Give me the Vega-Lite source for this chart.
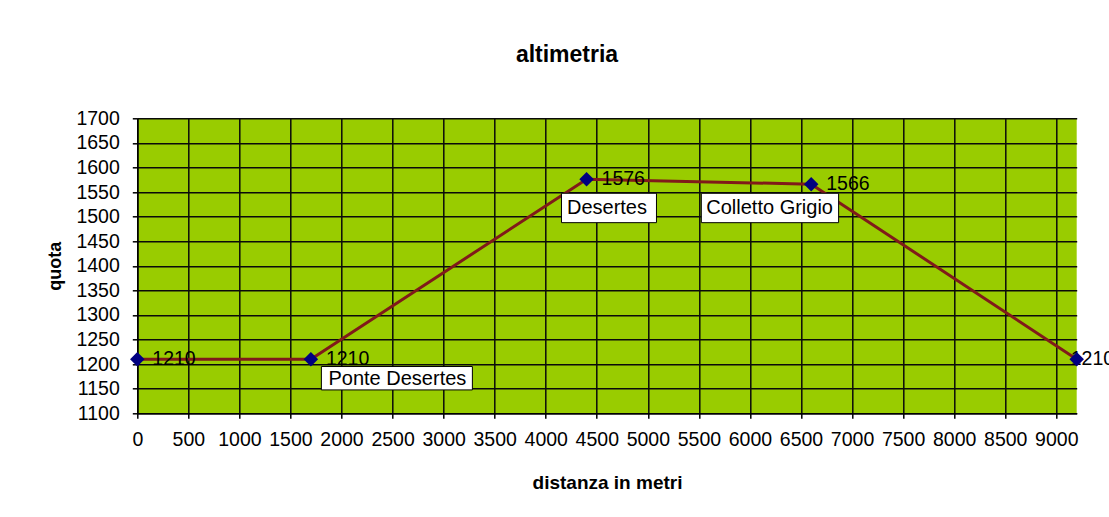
{
  "$schema": "https://vega.github.io/schema/vega-lite/v6.json",
  "autosize": "none",
  "width": 939.4,
  "height": 295,
  "padding": {"left": 137.3, "top": 118.3, "right": 32.3, "bottom": 103.7},
  "background": "white",
  "title": {
    "text": "altimetria",
    "anchor": "middle",
    "frame": "group",
    "dx": -40,
    "offset": 23,
    "baseline": "alphabetic",
    "font": "Liberation Sans",
    "fontSize": 23,
    "fontWeight": "bold",
    "color": "black"
  },
  "config": {
    "view": {"fill": "#99CC00", "stroke": null},
    "axis": {
      "grid": true,
      "gridColor": "#0a0a0a",
      "gridWidth": 1.5,
      "gridOpacity": 1,
      "domain": true,
      "domainColor": "black",
      "domainWidth": 1.5,
      "ticks": true,
      "tickColor": "black",
      "tickSize": 5,
      "tickWidth": 1.5,
      "labelFont": "Liberation Sans",
      "labelFontSize": 19.5,
      "labelColor": "black",
      "labelOverlap": false,
      "labelFlush": false,
      "format": "d",
      "titleFont": "Liberation Sans",
      "titleFontWeight": "bold",
      "titleColor": "black"
    }
  },
  "data": {
    "values": [
      {"distanza": 0, "quota": 1210, "nome": ""},
      {"distanza": 1700, "quota": 1210, "nome": "Ponte Desertes"},
      {"distanza": 4400, "quota": 1576, "nome": "Desertes"},
      {"distanza": 6600, "quota": 1566, "nome": "Colletto Grigio"},
      {"distanza": 9200, "quota": 1210, "nome": ""}
    ]
  },
  "encoding": {
    "x": {
      "field": "distanza",
      "type": "quantitative",
      "scale": {"domain": [0, 9200], "nice": false, "zero": false},
      "axis": {
        "values": [0, 500, 1000, 1500, 2000, 2500, 3000, 3500, 4000, 4500, 5000, 5500, 6000, 6500, 7000, 7500, 8000, 8500, 9000],
        "format": "d",
        "title": "distanza in metri",
        "titleFontSize": 19,
        "titleY": 75,
        "titleBaseline": "alphabetic",
        "labelPadding": 12
      }
    },
    "y": {
      "field": "quota",
      "type": "quantitative",
      "scale": {"domain": [1100, 1700], "nice": false, "zero": false},
      "axis": {
        "values": [1100, 1150, 1200, 1250, 1300, 1350, 1400, 1450, 1500, 1550, 1600, 1650, 1700],
        "format": "d",
        "title": "quota",
        "titleFontSize": 18,
        "titleX": -82,
        "titleY": 147.5,
        "titleAngle": -90,
        "titleAlign": "center",
        "titleBaseline": "middle",
        "labelPadding": 13
      }
    }
  },
  "layer": [
    {"mark": {"type": "line", "color": "#801a1a", "strokeWidth": 3}},
    {
      "transform": [{"filter": "datum.distanza < 9000"}],
      "mark": {"type": "text", "align": "left", "baseline": "middle", "dx": 15, "font": "Liberation Sans", "fontSize": 19.5, "color": "black"},
      "encoding": {"text": {"field": "quota", "type": "quantitative", "format": "d"}}
    },
    {
      "transform": [{"filter": "datum.distanza >= 9000"}],
      "mark": {"type": "text", "align": "left", "baseline": "middle", "dx": -6, "font": "Liberation Sans", "fontSize": 19.5, "color": "black"},
      "encoding": {"text": {"field": "quota", "type": "quantitative", "format": "d"}}
    },
    {"mark": {"type": "point", "shape": "diamond", "filled": true, "size": 210, "color": "#000080", "opacity": 1}},
    {
      "transform": [{"filter": "datum.nome == 'Ponte Desertes'"}],
      "mark": {"type": "point", "shape": "M10.5,7.3H161.5V30.7H10.5Z", "size": 4, "filled": true, "fill": "white", "stroke": "black", "strokeWidth": 1, "opacity": 1}
    },
    {
      "transform": [{"filter": "datum.nome == 'Desertes'"}],
      "mark": {"type": "point", "shape": "M-25.1,14H69.9V43.4H-25.1Z", "size": 4, "filled": true, "fill": "white", "stroke": "black", "strokeWidth": 1, "opacity": 1}
    },
    {
      "transform": [{"filter": "datum.nome == 'Colletto Grigio'"}],
      "mark": {"type": "point", "shape": "M-109.9,9.1H27.4V38.5H-109.9Z", "size": 4, "filled": true, "fill": "white", "stroke": "black", "strokeWidth": 1, "opacity": 1}
    },
    {
      "transform": [{"filter": "datum.nome == 'Ponte Desertes'"}],
      "mark": {"type": "text", "align": "center", "baseline": "middle", "dx": 86.5, "dy": 19.5, "font": "Liberation Sans", "fontSize": 20, "color": "black"},
      "encoding": {"text": {"field": "nome"}}
    },
    {
      "transform": [{"filter": "datum.nome == 'Desertes'"}],
      "mark": {"type": "text", "align": "center", "baseline": "middle", "dx": 20.4, "dy": 28.7, "font": "Liberation Sans", "fontSize": 20, "color": "black"},
      "encoding": {"text": {"field": "nome"}}
    },
    {
      "transform": [{"filter": "datum.nome == 'Colletto Grigio'"}],
      "mark": {"type": "text", "align": "center", "baseline": "middle", "dx": -41.6, "dy": 23.8, "font": "Liberation Sans", "fontSize": 20, "color": "black"},
      "encoding": {"text": {"field": "nome"}}
    }
  ]
}
